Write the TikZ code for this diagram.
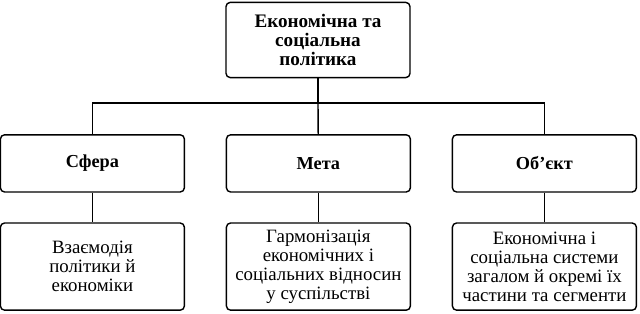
\documentclass[tikz,border=0pt]{standalone}
\usepackage{fontspec}
\setmainfont{Liberation Serif}
\begin{document}
\begin{tikzpicture}[x=1cm,y=1cm,line width=1pt,
  box/.style={draw,rounded corners=3pt,align=center,inner sep=2pt},
  headbox/.style={box,font=\fontsize{13.6}{13.6}\selectfont\bfseries},
  topbox/.style={box,minimum width=4.6cm,minimum height=1.43cm,font=\fontsize{13}{13}\selectfont\bfseries},
  textbox/.style={box,minimum width=4.6cm,minimum height=2.18cm,font=\fontsize{13.4}{13.4}\selectfont}]
\useasboundingbox (0,0) rectangle (16,7.825);

\node[headbox,minimum width=4.6cm,minimum height=1.88cm] (policy) at (7.95,6.825) {Економічна та\\соціальна\\політика};

\node[topbox] (sphere) at (2.31,3.74) {Сфера};
\node[topbox] (goal) at (7.96,3.74) {Мета};
\node[topbox] (object) at (13.61,3.74) {Об’єкт};

\node[textbox] (interact) at (2.31,1.16) {Взаємодія\\політики й\\економіки};
\node[textbox] (harmony) at (7.96,1.16) {Гармонізація\\економічних і\\соціальних відносин\\у суспільстві};
\node[textbox] (systems) at (13.61,1.16) {Економічна і\\соціальна системи\\загалом й окремі їх\\частини та сегменти};

\coordinate (bus) at (7.95,5.25);
\draw (policy) -- (bus);
\draw (bus) -| (sphere);
\draw (bus) -| (object);
\draw (bus) -- (goal);

\draw (sphere) -- (interact);
\draw (goal) -- (harmony);
\draw (object) -- (systems);
\end{tikzpicture}
\end{document}
